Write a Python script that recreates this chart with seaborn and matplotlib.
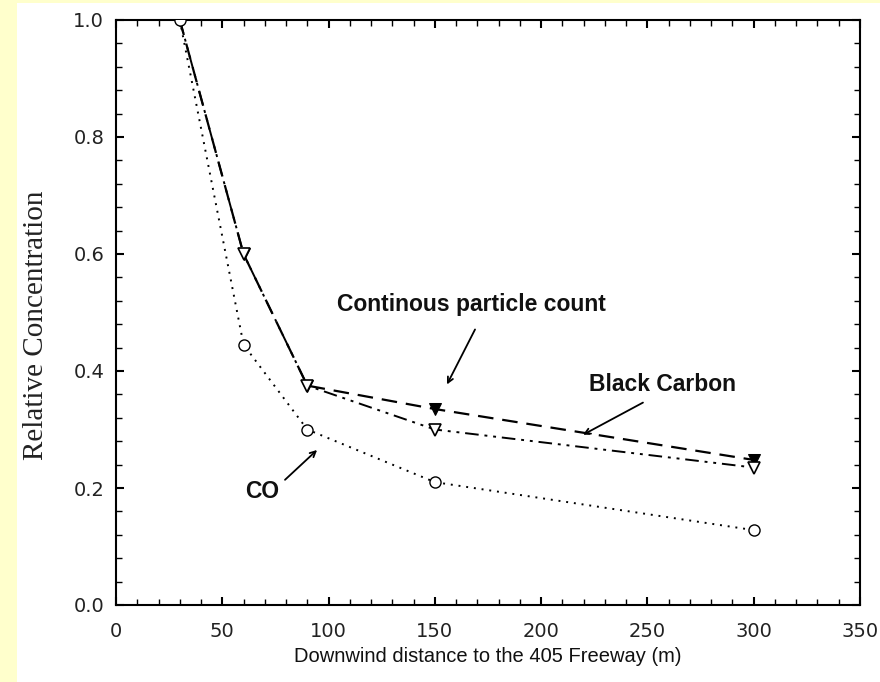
import numpy as np
import pandas as pd
import matplotlib
matplotlib.use("Agg")
import matplotlib.pyplot as plt
from matplotlib.ticker import MultipleLocator
from matplotlib.patches import Rectangle
import seaborn as sns

# data
distance = [30, 60, 90, 150, 300]
particle_count = [1.0, 0.60, 0.375, 0.335, 0.248]
black_carbon = [1.0, 0.60, 0.375, 0.30, 0.235]
co = [1.0, 0.445, 0.30, 0.21, 0.128]

df = pd.DataFrame({"distance": distance, "cpc": particle_count,
                   "bc": black_carbon, "co": co})

sns.set_style("ticks")
plt.rcParams["font.family"] = ["Liberation Sans", "DejaVu Sans"]

fig = plt.figure(figsize=(8.8, 6.82), dpi=100)
fig.patch.set_facecolor("#FFFFCC")
fig.patches.append(Rectangle((17 / 880, 0), 1, 1 - 3 / 682, transform=fig.transFigure,
                             facecolor="white", edgecolor="none", zorder=-10))
ax = fig.add_axes([116 / 880, 1 - 605 / 682, 744 / 880, 585 / 682])
ax.set_facecolor("white")

sns.lineplot(data=df, x="distance", y="cpc", ax=ax, color="black", lw=1.6,
             linestyle=(0, (7, 4)), marker="v", markersize=9,
             markerfacecolor="black", markeredgecolor="black", errorbar=None, zorder=3)
sns.lineplot(data=df, x="distance", y="bc", ax=ax, color="black", lw=1.4,
             linestyle=(0, (7, 3, 1.5, 3, 1.5, 3)), marker="v", markersize=9,
             markerfacecolor="white", markeredgecolor="black", markeredgewidth=1.2,
             errorbar=None, zorder=4)
sns.lineplot(data=df, x="distance", y="co", ax=ax, color="black", lw=1.4,
             linestyle=(0, (1, 3)), marker="o", markersize=8,
             markerfacecolor="white", markeredgecolor="black", markeredgewidth=1.0,
             errorbar=None, zorder=5)

ax.set_xlim(0, 350)
ax.set_ylim(0, 1.0)
ax.xaxis.set_major_locator(MultipleLocator(50))
ax.xaxis.set_minor_locator(MultipleLocator(10))
ax.yaxis.set_major_locator(MultipleLocator(0.2))
ax.yaxis.set_minor_locator(MultipleLocator(0.04))
ax.yaxis.set_major_formatter(plt.FormatStrFormatter("%.1f"))
ax.tick_params(which="both", direction="in", top=True, right=True, color="black")
ax.tick_params(which="major", length=6, width=1.5)
ax.tick_params(which="minor", length=4, width=1.0)
ax.tick_params(axis="x", pad=12)
ax.tick_params(axis="y", pad=8.5)
for s in ax.spines.values():
    s.set_linewidth(1.5)
    s.set_color("black")

for lab in ax.get_xticklabels() + ax.get_yticklabels():
    lab.set_family("DejaVu Sans")
    lab.set_fontsize(14)
    lab.set_color("#222222")

ax.set_xlabel("Downwind distance to the 405 Freeway (m)", fontsize=14.5, color="#111111")
ax.xaxis.set_label_coords(0.5, -0.072)
ax.set_ylabel("Relative Concentration", fontsize=21, family="Liberation Serif",
              color="#222222")
ax.yaxis.set_label_coords(-0.09, 0.479)

arrow = dict(arrowstyle="->", color="black", lw=1.3, shrinkA=0, shrinkB=0)
ax.annotate("", xy=(155.7, 0.377), xytext=(168.9, 0.471), arrowprops=arrow)
ax.annotate("", xy=(219.7, 0.291), xytext=(247.9, 0.346), arrowprops=arrow)
ax.annotate("", xy=(94.6, 0.265), xytext=(79.5, 0.214), arrowprops=arrow)
ax.text(167, 0.514, "Continous particle count", ha="center", va="center",
        fontsize=16.5, fontweight="bold", color="#111111")
ax.text(257, 0.377, "Black Carbon", ha="center", va="center",
        fontsize=16.5, fontweight="bold", color="#111111")
ax.text(68.7, 0.194, "CO", ha="center", va="center",
        fontsize=16.5, fontweight="bold", color="#111111")

fig.savefig("out.png", dpi=100, facecolor=fig.get_facecolor())
